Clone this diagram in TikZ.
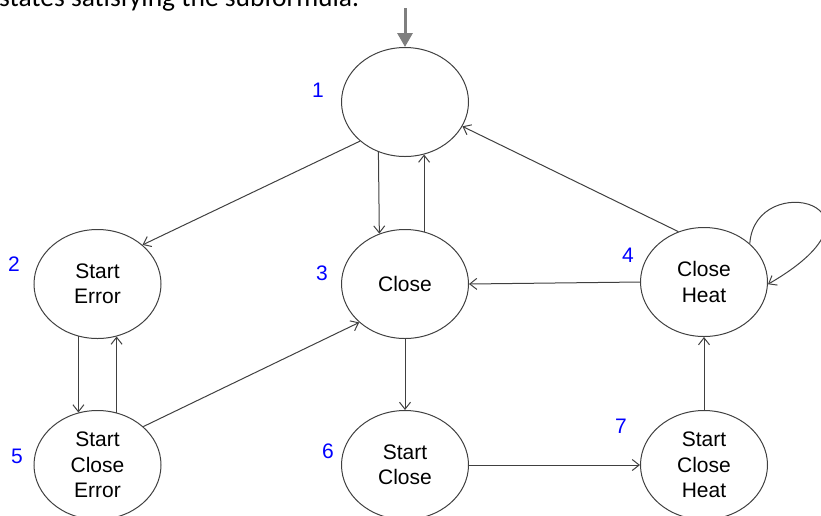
\documentclass[tikz,border=0pt]{standalone}
\usepackage{fontspec}
\setmainfont{Liberation Sans}
\newfontfamily\titlefont{Carlito}
\usetikzlibrary{shapes.geometric,arrows.meta}
\definecolor{edgegray}{HTML}{404040}
\definecolor{initgray}{HTML}{7F7F7F}
\definecolor{lblblue}{HTML}{0000FF}
\begin{document}
\begin{tikzpicture}[x=1pt,y=-1pt,
 state/.style={ellipse,draw=edgegray,line width=1pt,minimum width=127pt,minimum height=109pt,inner sep=0pt,align=center,font=\fontsize{21}{25.5}\selectfont},
 num/.style={text=lblblue,font=\fontsize{21}{24}\selectfont,inner sep=0pt},
 edge/.style={draw=edgegray,line width=1pt,-{Straight Barb[length=7pt,width=11pt]}},
 initedge/.style={draw=initgray,line width=3pt,-{Triangle[length=14pt,width=15pt]}},
]
\useasboundingbox (0,0) rectangle (821,515);
\clip (0,0) rectangle (821,515);

\node[anchor=base west,inner sep=0pt,font=\titlefont\fontsize{27.5}{30}\selectfont] (title) at (-1,6.5) {states satisfying the subformula.};

\node[state] (n1) at (405,102) {};
\node[state] (n2) at (97.5,284) {Start\\Error};
\node[state] (n3) at (405,284) {Close};
\node[state] (n4) at (704,282) {Close\\Heat};
\node[state] (n5) at (97.5,465) {Start\\Close\\Error};
\node[state] (n6) at (405,465) {Start\\Close};
\node[state] (n7) at (704,465) {Start\\Close\\Heat};

\node[num] (l1) at (318,90) {1};
\node[num] (l2) at (14,264) {2};
\node[num] (l3) at (322,273) {3};
\node[num] (l4) at (628,255) {4};
\node[num] (l5) at (17,456) {5};
\node[num] (l6) at (328,451) {6};
\node[num] (l7) at (621,426) {7};

\coordinate (init) at (405,8);
\draw[initedge] (init) -- (n1.north);

\draw[edge] (n1.221) -- (n2.41);
\draw[edge] (n1.242.4) -- (n3.117.6);
\draw[edge] (n3.70) -- (n1.290);
\draw[edge] (n4.117) -- (n1.337);
\draw[edge] (n4.west) -- (n3.east);
\draw[edge] (n4.40) .. controls (755,168) and (905,205) .. (n4.358);
\draw[edge] (n2.250) -- (n5.110);
\draw[edge] (n5.70) -- (n2.290);
\draw[edge] (n5.40) -- (n3.220);
\draw[edge] (n3.south) -- (n6.north);
\draw[edge] (n6.east) -- (n7.west);
\draw[edge] (n7.north) -- (n4.south);
\end{tikzpicture}
\end{document}
